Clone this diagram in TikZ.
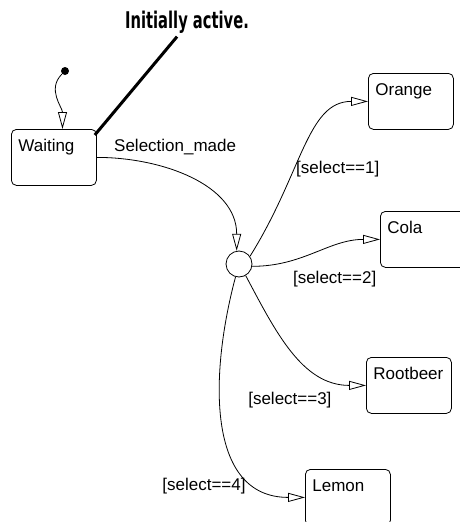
\documentclass[tikz,border=0pt]{standalone}
\usepackage{fontspec}
\setmainfont{Liberation Sans}
\newfontfamily\notefont[FakeStretch=0.64]{DejaVu Sans}
\usetikzlibrary{arrows.meta,calc}
\tikzset{
  statebox/.style={draw,rounded corners=5pt,anchor=north west,align=left,text width=71pt,
    inner xsep=7pt,inner ysep=2pt,text height=20pt,text depth=32pt},
  trans/.style={-{Triangle[open,length=17pt,width=9pt]}},
  lbl/.style={inner sep=0pt},
}

\begin{document}
\begin{tikzpicture}[x=1pt,y=1pt,line width=0.8pt,every node/.style={font=\fontsize{17}{20}\selectfont}]
  \useasboundingbox (0,0) rectangle (459,-522);
  % states
  \node[statebox] (waiting) at (11,-129) {Waiting};
  \node[statebox] (orange) at (368,-73) {Orange};
  \node[statebox] (cola) at (380,-211) {Cola};
  \node[statebox] (rootbeer) at (366,-357) {Rootbeer};
  \node[statebox] (lemon) at (305,-469) {Lemon};
  % junction and default transition
  \node[circle,draw,minimum size=26pt,inner sep=0pt] (junction) at (239,-264) {};
  \node[circle,fill,minimum size=8pt,inner sep=0pt] (init) at (65,-71) {};
  \draw[trans] (init.225) to[out=225,in=90] ($(waiting.north west)!0.6!(waiting.north east)$);
  % annotation
  \node[inner sep=0pt,font=\notefont\bfseries\fontsize{23}{26}\selectfont] (note) at (187,-22) {Initially active.};
  \draw[line width=3pt] ([xshift=-2pt,yshift=-6pt]waiting.north east)
    -- ([yshift=-3pt]$(note.south west)!0.42!(note.south east)$);
  % transitions
  \draw[trans] (waiting.east) to[out=0,in=90]
    node[lbl,pos=0,anchor=base west,xshift=17pt,yshift=6pt] {Selection\_made} (junction.100);
  \draw[trans] (junction.35) to[out=58,in=180,out looseness=1.3,in looseness=0.8]
    node[lbl,pos=0.38,anchor=west,xshift=1pt] {[select==1]} (orange.west);
  \draw[trans] (junction.-10) to[out=0,in=180]
    node[lbl,pos=0.3,anchor=north west,yshift=-10pt] {[select==2]} (cola.west);
  \draw[trans] (junction.-60) to[out=-62,in=180]
    node[lbl,pos=0.8,anchor=north east,yshift=-12pt] {[select==3]} (rootbeer.west);
  \draw[trans] (junction.-105) to[out=-105,in=180,looseness=1.1]
    node[lbl,pos=0.82,anchor=east,xshift=-15pt] {[select==4]} (lemon.west);
\end{tikzpicture}
\end{document}
